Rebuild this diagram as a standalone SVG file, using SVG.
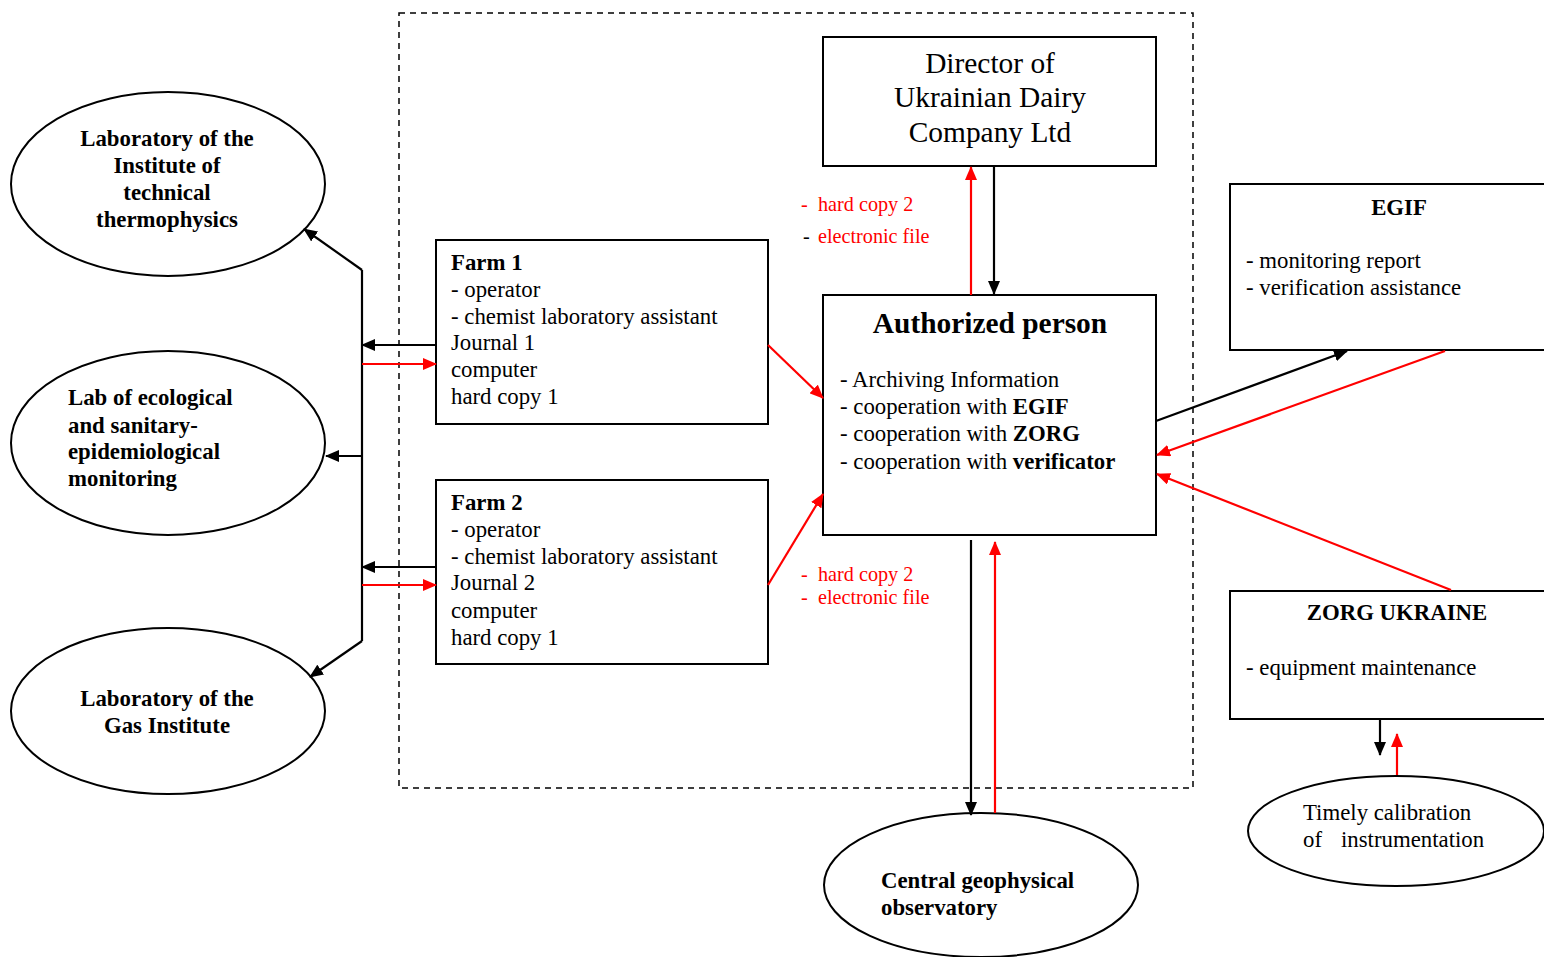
<svg xmlns="http://www.w3.org/2000/svg" width="1544" height="957" viewBox="0 0 1544 957">
<style>
.box{fill:#fff;stroke:#000;stroke-width:2}
.ell{fill:#fff;stroke:#000;stroke-width:2}
.t{font-family:"Liberation Serif",serif;font-size:22.8px;fill:#000}
.b{font-weight:bold}
.big{font-size:29.4px}
.r{fill:#ff0000}
.k{stroke:#000;stroke-width:2.2;fill:none}
.rd{stroke:#ff0000;stroke-width:2.2;fill:none}
.lab{font-size:20.2px}
</style>
<defs>
<marker id="ak" viewBox="0 0 14 12" refX="13" refY="6" markerWidth="14" markerHeight="12" markerUnits="userSpaceOnUse" orient="auto"><path d="M0,0L14,6L0,12z" fill="#000"/></marker>
<marker id="ar" viewBox="0 0 14 12" refX="13" refY="6" markerWidth="14" markerHeight="12" markerUnits="userSpaceOnUse" orient="auto"><path d="M0,0L14,6L0,12z" fill="#ff0000"/></marker>
</defs>
<rect width="1544" height="957" fill="#fff"/>
<rect x="399" y="13" width="794" height="775" fill="none" stroke="#000" stroke-width="1.5" stroke-dasharray="6,5"/>

<g id="director">
<rect class="box" x="823" y="37" width="333" height="129"/>
<text class="t big" x="990" y="73" text-anchor="middle">Director of</text>
<text class="t big" x="990" y="107" text-anchor="middle">Ukrainian Dairy</text>
<text class="t big" x="990" y="142" text-anchor="middle">Company Ltd</text>
</g>

<g id="authorized">
<rect class="box" x="823" y="295" width="333" height="240"/>
<text class="t b big" x="990" y="333" text-anchor="middle">Authorized person</text>
<text class="t" x="840" y="387">- Archiving Information</text>
<text class="t" x="840" y="414">- cooperation with <tspan class="b">EGIF</tspan></text>
<text class="t" x="840" y="441">- cooperation with <tspan class="b">ZORG</tspan></text>
<text class="t" x="840" y="469">- cooperation with <tspan class="b">verificator</tspan></text>
</g>

<g id="farm1">
<rect class="box" x="436" y="240" width="332" height="184"/>
<text class="t b" x="451" y="270">Farm 1</text>
<text class="t" x="451" y="297">- operator</text>
<text class="t" x="451" y="324">- chemist laboratory assistant</text>
<text class="t" x="451" y="350">Journal  1</text>
<text class="t" x="451" y="377">computer</text>
<text class="t" x="451" y="404">hard copy 1</text>
</g>

<g id="farm2">
<rect class="box" x="436" y="480" width="332" height="184"/>
<text class="t b" x="451" y="510">Farm 2</text>
<text class="t" x="451" y="537">- operator</text>
<text class="t" x="451" y="564">- chemist laboratory assistant</text>
<text class="t" x="451" y="590">Journal  2</text>
<text class="t" x="451" y="618">computer</text>
<text class="t" x="451" y="645">hard copy 1</text>
</g>

<g id="egif">
<rect class="box" x="1230" y="184" width="330" height="166"/>
<text class="t b" x="1399" y="215" text-anchor="middle">EGIF</text>
<text class="t" x="1246" y="268">- monitoring report</text>
<text class="t" x="1246" y="295">- verification assistance</text>
</g>

<g id="zorg">
<rect class="box" x="1230" y="591" width="330" height="128"/>
<text class="t b" x="1397" y="620" text-anchor="middle">ZORG UKRAINE</text>
<text class="t" x="1246" y="675">- equipment maintenance</text>
</g>

<g id="lab-institute">
<ellipse class="ell" cx="168" cy="184" rx="157" ry="92"/>
<text class="t b" x="167" y="146" text-anchor="middle">Laboratory of the</text>
<text class="t b" x="167" y="173" text-anchor="middle">Institute of</text>
<text class="t b" x="167" y="200" text-anchor="middle">technical</text>
<text class="t b" x="167" y="227" text-anchor="middle">thermophysics</text>
</g>

<g id="lab-ecological">
<ellipse class="ell" cx="168" cy="443" rx="157" ry="92"/>
<text class="t b" x="68" y="405">Lab of ecological</text>
<text class="t b" x="68" y="433">and sanitary-</text>
<text class="t b" x="68" y="459">epidemiological</text>
<text class="t b" x="68" y="486">monitoring</text>
</g>

<g id="lab-gas">
<ellipse class="ell" cx="168" cy="711" rx="157" ry="83"/>
<text class="t b" x="167" y="706" text-anchor="middle">Laboratory of the</text>
<text class="t b" x="167" y="733" text-anchor="middle">Gas Institute</text>
</g>

<g id="central">
<ellipse class="ell" cx="981" cy="885" rx="157" ry="72"/>
<text class="t b" x="881" y="888">Central geophysical</text>
<text class="t b" x="881" y="915">observatory</text>
</g>

<g id="calibration">
<ellipse class="ell" cx="1396" cy="831" rx="148" ry="55"/>
<text class="t" x="1303" y="820">Timely calibration</text>
<text class="t" x="1303" y="847">of<tspan x="1341">instrumentation</tspan></text>
</g>

<g id="labels">
<text class="t lab r" x="801" y="211">-<tspan x="818">hard copy 2</tspan></text>
<text class="t lab" x="803" y="243">-</text>
<text class="t lab r" x="818" y="243">electronic file</text>
<text class="t lab r" x="801" y="581">-<tspan x="818">hard copy 2</tspan></text>
<text class="t lab r" x="801" y="604">-<tspan x="818">electronic file</tspan></text>
</g>

<g id="connectors">
<path class="k" d="M362,270 L362,641"/>
<path class="k" d="M362,270 L304,229" marker-end="url(#ak)"/>
<path class="k" d="M362,641 L310,677" marker-end="url(#ak)"/>
<path class="k" d="M362,456 L326,456" marker-end="url(#ak)"/>
<path class="k" d="M436,345 L362,345" marker-end="url(#ak)"/>
<path class="rd" d="M362,364 L436,364" marker-end="url(#ar)"/>
<path class="k" d="M436,567 L362,567" marker-end="url(#ak)"/>
<path class="rd" d="M362,585 L436,585" marker-end="url(#ar)"/>
<path class="rd" d="M768,345 L823,398" marker-end="url(#ar)"/>
<path class="rd" d="M768,585 L823,494" marker-end="url(#ar)"/>
<path class="rd" d="M971,295 L971,167" marker-end="url(#ar)"/>
<path class="k" d="M994,166 L994,294" marker-end="url(#ak)"/>
<path class="k" d="M971,540 L971,815" marker-end="url(#ak)"/>
<path class="rd" d="M995,813 L995,542" marker-end="url(#ar)"/>
<path class="k" d="M1156,421 L1347,351" marker-end="url(#ak)"/>
<path class="rd" d="M1445,351 L1157,455" marker-end="url(#ar)"/>
<path class="rd" d="M1451,590 L1157,474" marker-end="url(#ar)"/>
<path class="k" d="M1380,720 L1380,755" marker-end="url(#ak)"/>
<path class="rd" d="M1397,775 L1397,734" marker-end="url(#ar)"/>
</g>
</svg>
